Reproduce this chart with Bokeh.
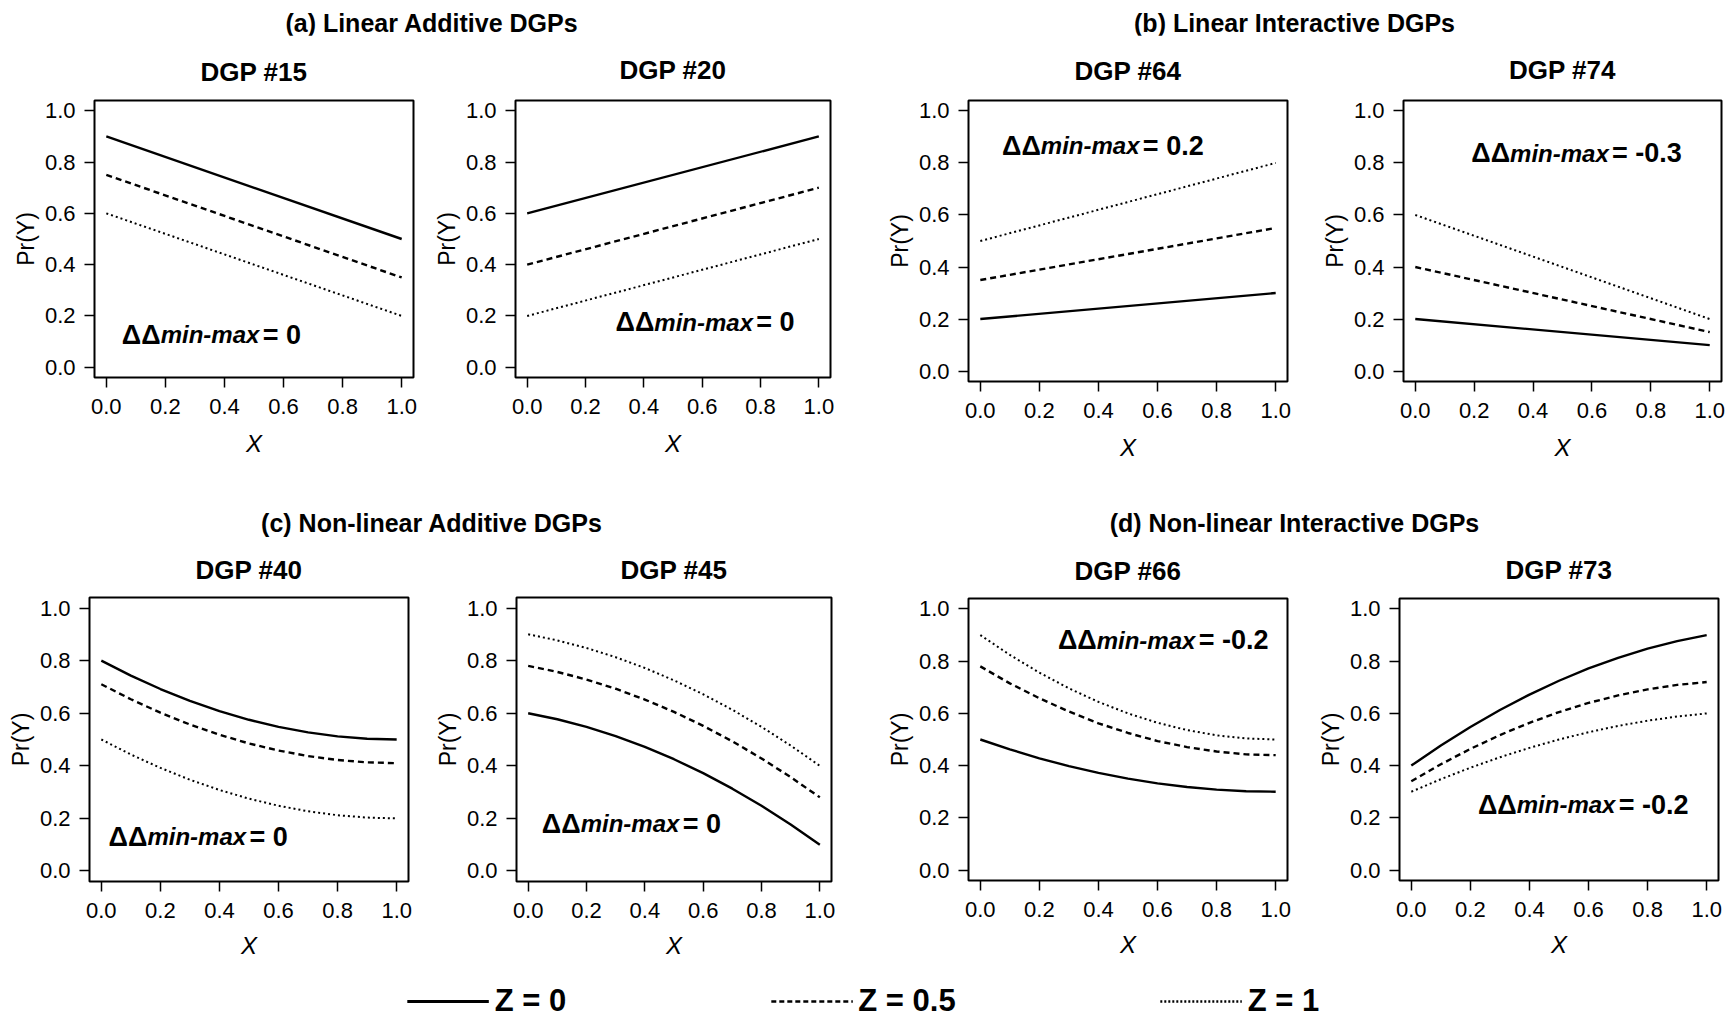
from bokeh.plotting import figure
from bokeh.models import (Range1d, FixedTicker, NumeralTickFormatter, Div, Legend, LegendItem)
from bokeh.layouts import row, column
from bokeh.core.properties import value
from bokeh.embed import file_html
from bokeh.resources import INLINE

FONT = "Liberation Sans"

# ---------------- data ----------------
x_lin = [0.0, 1.0]
x_grid = [0.0, 0.1, 0.2, 0.3, 0.4, 0.5, 0.6, 0.7, 0.8, 0.9, 1.0]
axis_ticks = [0.0, 0.2, 0.4, 0.6, 0.8, 1.0]

section_titles = ["(a) Linear Additive DGPs", "(b) Linear Interactive DGPs",
                  "(c) Non-linear Additive DGPs", "(d) Non-linear Interactive DGPs"]
dgp_titles = ["DGP #15", "DGP #20", "DGP #64", "DGP #74",
              "DGP #40", "DGP #45", "DGP #66", "DGP #73"]
dd_values = ["0", "0", "0.2", "-0.3", "0", "0", "-0.2", "-0.2"]
legend_labels = ["Z = 0", "Z = 0.5", "Z = 1"]

# (a) linear additive
dgp15_z0 = [0.90, 0.50]
dgp15_z05 = [0.75, 0.35]
dgp15_z1 = [0.60, 0.20]
dgp20_z0 = [0.60, 0.90]
dgp20_z05 = [0.40, 0.70]
dgp20_z1 = [0.20, 0.50]
# (b) linear interactive
dgp64_z0 = [0.20, 0.30]
dgp64_z05 = [0.35, 0.55]
dgp64_z1 = [0.50, 0.80]
dgp74_z0 = [0.20, 0.10]
dgp74_z05 = [0.40, 0.15]
dgp74_z1 = [0.60, 0.20]
# (c) non-linear additive
dgp40_z0 = [0.800, 0.743, 0.692, 0.647, 0.608, 0.575, 0.548, 0.527, 0.512, 0.503, 0.500]
dgp40_z05 = [0.710, 0.653, 0.602, 0.557, 0.518, 0.485, 0.458, 0.437, 0.422, 0.413, 0.410]
dgp40_z1 = [0.500, 0.443, 0.392, 0.347, 0.308, 0.275, 0.248, 0.227, 0.212, 0.203, 0.200]
dgp45_z0 = [0.600, 0.577, 0.548, 0.513, 0.472, 0.425, 0.372, 0.313, 0.248, 0.177, 0.100]
dgp45_z05 = [0.780, 0.757, 0.728, 0.693, 0.652, 0.605, 0.552, 0.493, 0.428, 0.357, 0.280]
dgp45_z1 = [0.900, 0.877, 0.848, 0.813, 0.772, 0.725, 0.672, 0.613, 0.548, 0.477, 0.400]
# (d) non-linear interactive
dgp66_z0 = [0.500, 0.462, 0.428, 0.398, 0.372, 0.350, 0.332, 0.318, 0.308, 0.302, 0.300]
dgp66_z05 = [0.780, 0.715, 0.658, 0.607, 0.562, 0.525, 0.494, 0.471, 0.454, 0.443, 0.440]
dgp66_z1 = [0.900, 0.824, 0.756, 0.696, 0.644, 0.600, 0.564, 0.536, 0.516, 0.504, 0.500]
dgp73_z0 = [0.400, 0.477, 0.548, 0.613, 0.672, 0.725, 0.772, 0.813, 0.848, 0.877, 0.900]
dgp73_z05 = [0.340, 0.405, 0.464, 0.517, 0.564, 0.605, 0.640, 0.669, 0.692, 0.709, 0.720]
dgp73_z1 = [0.300, 0.348, 0.392, 0.432, 0.468, 0.500, 0.528, 0.552, 0.572, 0.588, 0.600]

# annotation anchor (junction between "ΔΔ" and "min-max"), data coords
dd_x = [0.184, 0.436, 0.205, 0.322, 0.156, 0.18, 0.394, 0.357]
dd_y = [0.126, 0.175, 0.866, 0.838, 0.13, 0.18, 0.88, 0.25]

panel_x = [x_lin, x_lin, x_lin, x_lin, x_grid, x_grid, x_grid, x_grid]
panel_series = [
    (dgp15_z0, dgp15_z05, dgp15_z1), (dgp20_z0, dgp20_z05, dgp20_z1),
    (dgp64_z0, dgp64_z05, dgp64_z1), (dgp74_z0, dgp74_z05, dgp74_z1),
    (dgp40_z0, dgp40_z05, dgp40_z1), (dgp45_z0, dgp45_z05, dgp45_z1),
    (dgp66_z0, dgp66_z05, dgp66_z1), (dgp73_z0, dgp73_z05, dgp73_z1),
]

# ---------------- layout geometry (pixels) ----------------
# (fig width, fig height, border left, right, top, bottom, x-label standoff, title standoff)
geom = [
    (425, 465, 94, 12, 62, 119, 13, 28),
    (438, 465, 90, 33, 65, 123, 13, 31),
    (449, 465, 105, 25, 62, 119, 13, 29),
    (414, 465, 91, 5, 65, 119, 13, 31),
    (425, 433, 89, 17, 58, 90, 11, 25),
    (438, 433, 91, 32, 59, 90, 11, 26),
    (449, 433, 105, 25, 58, 90, 11, 25),
    (414, 433, 87, 8, 60, 91, 11, 27),
]

styles = [
    dict(line_width=2.4, line_dash="solid"),
    dict(line_width=2.4, line_dash="6 4"),
    dict(line_width=2.0, line_dash="2 3"),
]


def make_panel(i):
    w, h, bl, br, bt, bb, xls, tst = geom[i]
    p = figure(width=w, height=h, min_border_left=bl, min_border_right=br,
               min_border_top=bt, min_border_bottom=bb,
               x_range=Range1d(-0.04, 1.04), y_range=Range1d(-0.04, 1.04),
               output_backend="svg", toolbar_location=None, title=dgp_titles[i])
    p.title.align = "center"
    p.title.text_font = FONT
    p.title.text_font_size = "26px"
    p.title.text_font_style = "bold"
    p.title.text_color = "black"
    p.title.standoff = tst
    p.grid.visible = False
    p.outline_line_color = "black"
    p.outline_line_width = 2
    p.outline_line_alpha = 1
    p.background_fill_color = "white"
    p.border_fill_color = "white"
    for ax in (p.xaxis[0], p.yaxis[0]):
        ax.ticker = FixedTicker(ticks=axis_ticks)
        ax.formatter = NumeralTickFormatter(format="0.0")
        ax.axis_line_color = None
        ax.major_tick_line_color = "black"
        ax.major_tick_line_width = 1.5
        ax.major_tick_out = 10
        ax.major_tick_in = 0
        ax.minor_tick_line_color = None
        ax.major_label_text_font = FONT
        ax.major_label_text_font_size = "22px"
        ax.major_label_text_color = "black"
        ax.axis_label_text_font = FONT
        ax.axis_label_text_color = "black"
    p.xaxis.major_label_standoff = 11
    p.yaxis.major_label_standoff = 9
    p.xaxis.axis_label = "X"
    p.xaxis.axis_label_text_font_style = "italic"
    p.xaxis.axis_label_text_font_size = "24px"
    p.xaxis.axis_label_standoff = xls
    p.yaxis.axis_label = "Pr(Y)"
    p.yaxis.axis_label_text_font_style = "normal"
    p.yaxis.axis_label_text_font_size = "23px"
    p.yaxis.axis_label_standoff = 3

    for ys, st in zip(panel_series[i], styles):
        p.line(panel_x[i], ys, line_color="black", **st)

    ax_, ay_ = dd_x[i], dd_y[i]
    p.text(x=[ax_], y=[ay_], text=["ΔΔ"], text_align="right", text_baseline="middle",
           text_font=value(FONT), text_font_size="27px", text_font_style="bold",
           text_color="black")
    p.text(x=[ax_], y=[ay_], text=["min-max"], text_align="left", text_baseline="middle",
           text_font=value(FONT), text_font_size="24px", text_font_style="bold italic",
           text_color="black")
    p.text(x=[ax_], y=[ay_], text=["= " + dd_values[i]], text_align="left",
           text_baseline="middle", x_offset=102,
           text_font=value(FONT), text_font_size="27px", text_font_style="bold",
           text_color="black")
    return p


panels = [make_panel(i) for i in range(8)]


def make_div(txt, w, h):
    return Div(text=txt, width=w, height=h, margin=(0, 0, 0, 0),
               styles={"text-align": "center", "font-family": FONT, "font-weight": "bold",
                       "font-size": "25px", "line-height": "46px", "color": "black",
                       "width": f"{w}px"})


sec_a = column(make_div(section_titles[0], 863, 35), row(panels[0], panels[1]))
sec_b = column(make_div(section_titles[1], 863, 35), row(panels[2], panels[3]))
sec_c = column(make_div(section_titles[2], 863, 38), row(panels[4], panels[5]))
sec_d = column(make_div(section_titles[3], 863, 38), row(panels[6], panels[7]))

# legend strip
lf = figure(width=1726, height=48, min_border=0, min_border_top=12, output_backend="svg",
            toolbar_location=None, x_axis_type=None, y_axis_type=None,
            x_range=Range1d(0, 1), y_range=Range1d(0, 1))
lf.outline_line_color = None
lf.grid.visible = False
leg_styles = [
    dict(line_width=3, line_dash="solid"),
    dict(line_width=2.5, line_dash="5 3"),
    dict(line_width=2.5, line_dash="2 2"),
]
# legend proxies: placed outside the visible range, only their legend samples show
proxy_x = [2.0, 3.0]
proxy_y = [2.0, 2.0]
items = []
for lab, st in zip(legend_labels, leg_styles):
    r = lf.line(x=proxy_x, y=proxy_y, line_color="black", **st)
    items.append(LegendItem(label=lab, renderers=[r]))
legend = Legend(items=items, orientation="horizontal", location="center",
                glyph_width=82, glyph_height=24, label_standoff=6, spacing=204,
                label_text_font=FONT, label_text_font_size="31px",
                label_text_font_style="bold", label_text_color="black",
                border_line_color=None, background_fill_alpha=0, padding=0, margin=0)
lf.add_layout(legend, "center")

layout = column(row(sec_a, sec_b), row(sec_c, sec_d), lf)

open("out.html", "w").write(file_html(layout, INLINE))
